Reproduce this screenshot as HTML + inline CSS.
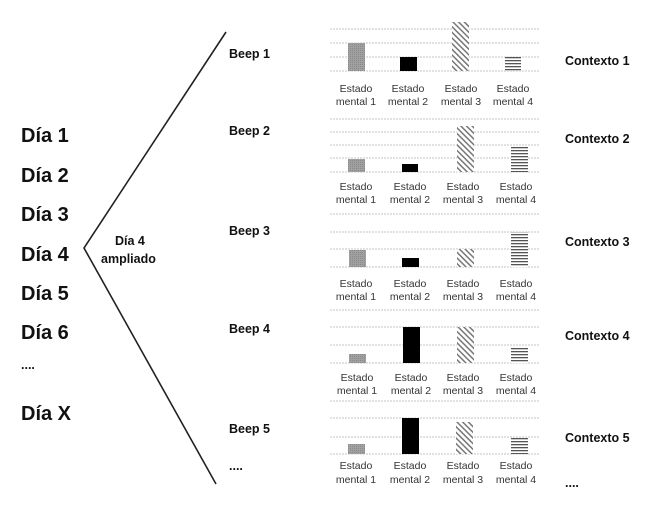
<!DOCTYPE html>
<html><head><meta charset="utf-8"><style>
html,body{margin:0;padding:0;background:#fff;}
svg{display:block;}
.d{font-family:"Liberation Sans",sans-serif;font-weight:bold;font-size:20px;fill:#111;}
.b{font-family:"Liberation Sans",sans-serif;font-weight:bold;font-size:12.5px;fill:#111;}
.l{font-family:"Liberation Sans",sans-serif;font-size:10.5px;fill:#333;text-anchor:middle;}
.g{stroke:#c4c4c4;stroke-width:1;stroke-dasharray:2 1;}
</style></head><body>
<svg width="650" height="523" viewBox="0 0 650 523" xmlns="http://www.w3.org/2000/svg">
<defs>
<pattern id="st" width="2" height="2" patternUnits="userSpaceOnUse"><rect width="2" height="2" fill="#a0a0a0"/><rect width="1" height="1" fill="#8a8a8a"/></pattern>
<pattern id="dg" width="4" height="4" patternUnits="userSpaceOnUse" patternTransform="rotate(-45)"><rect width="4" height="4" fill="#fff"/><rect width="1.5" height="4" fill="#777"/></pattern>
<pattern id="hz" width="3" height="3" patternUnits="userSpaceOnUse"><rect width="3" height="3" fill="#fff"/><rect width="3" height="1.3" fill="#555"/></pattern>
</defs>
<g class="d">
<text x="21" y="142">Día 1</text>
<text x="21" y="182">Día 2</text>
<text x="21" y="221">Día 3</text>
<text x="21" y="261">Día 4</text>
<text x="21" y="300">Día 5</text>
<text x="21" y="339">Día 6</text>
<text x="21" y="420">Día X</text>
</g>
<text x="21" y="369" class="b">....</text>
<polyline points="226,32 84,248 216,484" fill="none" stroke="#222" stroke-width="1.6"/>
<text x="115" y="245" class="b" font-size="12">Día 4</text>
<text x="101" y="263" class="b" font-size="12">ampliado</text>
<g class="b">
<text x="229" y="58">Beep 1</text>
<text x="229" y="135">Beep 2</text>
<text x="229" y="235">Beep 3</text>
<text x="229" y="333">Beep 4</text>
<text x="229" y="433">Beep 5</text>
<text x="229" y="470">....</text>
<text x="565" y="65">Contexto 1</text>
<text x="565" y="143">Contexto 2</text>
<text x="565" y="246">Contexto 3</text>
<text x="565" y="340">Contexto 4</text>
<text x="565" y="442">Contexto 5</text>
<text x="565" y="487">....</text>
</g>
<g>
<line class="g" x1="330" x2="540" y1="29" y2="29"/><line class="g" x1="330" x2="540" y1="43" y2="43"/><line class="g" x1="330" x2="540" y1="57" y2="57"/><line class="g" x1="330" x2="540" y1="71" y2="71"/>
<rect x="348" y="43" width="17" height="28" fill="url(#st)"/><rect x="400" y="57" width="17" height="14" fill="#000"/><rect x="452" y="22" width="17" height="49" fill="url(#dg)"/><rect x="505" y="57" width="16" height="14" fill="url(#hz)"/>
<line class="g" x1="330" x2="540" y1="119" y2="119"/><line class="g" x1="330" x2="540" y1="132" y2="132"/><line class="g" x1="330" x2="540" y1="145" y2="145"/><line class="g" x1="330" x2="540" y1="158" y2="158"/><line class="g" x1="330" x2="540" y1="172" y2="172"/>
<rect x="348" y="159" width="17" height="13" fill="url(#st)"/><rect x="402" y="164" width="16" height="8" fill="#000"/><rect x="457" y="126" width="17" height="46" fill="url(#dg)"/><rect x="511" y="147" width="17" height="25" fill="url(#hz)"/>
<line class="g" x1="330" x2="540" y1="214" y2="214"/><line class="g" x1="330" x2="540" y1="232" y2="232"/><line class="g" x1="330" x2="540" y1="249" y2="249"/><line class="g" x1="330" x2="540" y1="267" y2="267"/>
<rect x="349" y="250" width="17" height="17" fill="url(#st)"/><rect x="402" y="258" width="17" height="9" fill="#000"/><rect x="457" y="249" width="17" height="18" fill="url(#dg)"/><rect x="511" y="232" width="17" height="35" fill="url(#hz)"/>
<line class="g" x1="330" x2="540" y1="310" y2="310"/><line class="g" x1="330" x2="540" y1="327" y2="327"/><line class="g" x1="330" x2="540" y1="345" y2="345"/><line class="g" x1="330" x2="540" y1="363" y2="363"/>
<rect x="349" y="354" width="17" height="9" fill="url(#st)"/><rect x="403" y="327" width="17" height="36" fill="#000"/><rect x="457" y="327" width="17" height="36" fill="url(#dg)"/><rect x="511" y="348" width="17" height="15" fill="url(#hz)"/>
<line class="g" x1="330" x2="540" y1="401" y2="401"/><line class="g" x1="330" x2="540" y1="418" y2="418"/><line class="g" x1="330" x2="540" y1="437" y2="437"/><line class="g" x1="330" x2="540" y1="454" y2="454"/>
<rect x="348" y="444" width="17" height="10" fill="url(#st)"/><rect x="402" y="418" width="17" height="36" fill="#000"/><rect x="456" y="422" width="17" height="32" fill="url(#dg)"/><rect x="511" y="438" width="17" height="16" fill="url(#hz)"/>
</g>
<g class="l">
<text x="356" y="92">Estado</text><text x="356" y="105">mental 1</text>
<text x="408" y="92">Estado</text><text x="408" y="105">mental 2</text>
<text x="461" y="92">Estado</text><text x="461" y="105">mental 3</text>
<text x="513" y="92">Estado</text><text x="513" y="105">mental 4</text>
<text x="356" y="190">Estado</text><text x="356" y="203">mental 1</text>
<text x="410" y="190">Estado</text><text x="410" y="203">mental 2</text>
<text x="463" y="190">Estado</text><text x="463" y="203">mental 3</text>
<text x="516" y="190">Estado</text><text x="516" y="203">mental 4</text>
<text x="356" y="287">Estado</text><text x="356" y="300">mental 1</text>
<text x="410" y="287">Estado</text><text x="410" y="300">mental 2</text>
<text x="463" y="287">Estado</text><text x="463" y="300">mental 3</text>
<text x="516" y="287">Estado</text><text x="516" y="300">mental 4</text>
<text x="357" y="381">Estado</text><text x="357" y="394">mental 1</text>
<text x="411" y="381">Estado</text><text x="411" y="394">mental 2</text>
<text x="463" y="381">Estado</text><text x="463" y="394">mental 3</text>
<text x="516" y="381">Estado</text><text x="516" y="394">mental 4</text>
<text x="356" y="469">Estado</text><text x="356" y="483">mental 1</text>
<text x="410" y="469">Estado</text><text x="410" y="483">mental 2</text>
<text x="463" y="469">Estado</text><text x="463" y="483">mental 3</text>
<text x="516" y="469">Estado</text><text x="516" y="483">mental 4</text>
</g>
</svg>
</body></html>
